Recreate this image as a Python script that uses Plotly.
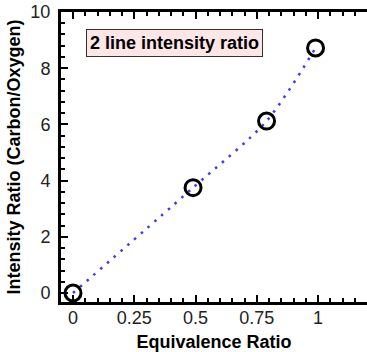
import plotly.graph_objects as go

eq_ratio = [0.0, 0.49, 0.79, 0.99]
intensity_ratio = [0.0, 3.75, 6.12, 8.72]
x_tick_vals = [0, 0.25, 0.5, 0.75, 1]
x_tick_text = ["0", "0.25", "0.5", "0.75", "1"]
y_tick_vals = [0, 2, 4, 6, 8, 10]
y_tick_text = ["0", "2", "4", "6", "8", "10"]

fig = go.Figure()
fig.add_trace(go.Scatter(
    x=eq_ratio, y=intensity_ratio, mode="lines",
    line=dict(color="#3a3aff", width=2.5, dash="2.5px,6.5px", shape="spline", smoothing=0.8),
    hoverinfo="skip", cliponaxis=False,
))
fig.add_trace(go.Scatter(
    x=eq_ratio, y=intensity_ratio, mode="markers",
    marker=dict(symbol="circle-open", size=16, color="black", line=dict(width=3, color="black")),
    cliponaxis=False,
))

tick_font = dict(family="Liberation Sans, Arial", size=18, color="#222222")
y_range = [-0.32, 10]
y_minor = dict(dtick=0.4, tick0=0, ticks="inside", ticklen=4, tickwidth=1.5, tickcolor="black")

fig.update_xaxes(
    range=[-0.049, 1.2], tickvals=x_tick_vals, ticktext=x_tick_text,
    showgrid=False, zeroline=False, showline=True, linecolor="black", linewidth=3,
    mirror="allticks", ticks="inside", ticklen=7, tickwidth=2, tickcolor="black",
    tickfont=tick_font,
    minor=dict(dtick=0.05, tick0=0, ticks="inside", ticklen=4, tickwidth=1.5, tickcolor="black"),
    title=dict(text="<b>Equivalence Ratio</b>", font=dict(family="Liberation Sans, Arial", size=18, color="black"), standoff=9),
    ticklabelstandoff=-3,
)
fig.update_yaxes(
    range=y_range, tickvals=y_tick_vals, ticktext=y_tick_text,
    showgrid=False, zeroline=False, showline=True, linecolor="black", linewidth=3,
    mirror=False, ticks="inside", ticklen=7, tickwidth=2, tickcolor="black",
    tickfont=tick_font,
    minor=y_minor,
    title=dict(text="<b>Intensity Ratio (Carbon/Oxygen)</b>", font=dict(family="Liberation Sans, Arial", size=18, color="black"), standoff=6),
    ticklabelstandoff=4,
)

fig.update_layout(
    yaxis2=dict(
        overlaying="y", side="right", range=y_range, tickvals=y_tick_vals,
        showgrid=False, zeroline=False, showline=False, showticklabels=False,
        ticks="inside", ticklen=7, tickwidth=2, tickcolor="black", minor=y_minor,
    ),
)

fig.add_annotation(
    xref="paper", yref="paper", x=(174 - 61) / 306, y=(302 - 42.5) / 290,
    text="<b>2 line intensity ratio</b>", showarrow=False,
    font=dict(family="Liberation Sans, Arial", size=18, color="black"),
    bgcolor="#fde6e6", bordercolor="#333333", borderwidth=1, borderpad=3,
    xanchor="center", yanchor="middle",
)

fig.update_layout(
    width=367, height=352, margin=dict(l=61, r=0, t=12, b=50),
    paper_bgcolor="white", plot_bgcolor="white", showlegend=False,
)

fig.write_html("out.html")
